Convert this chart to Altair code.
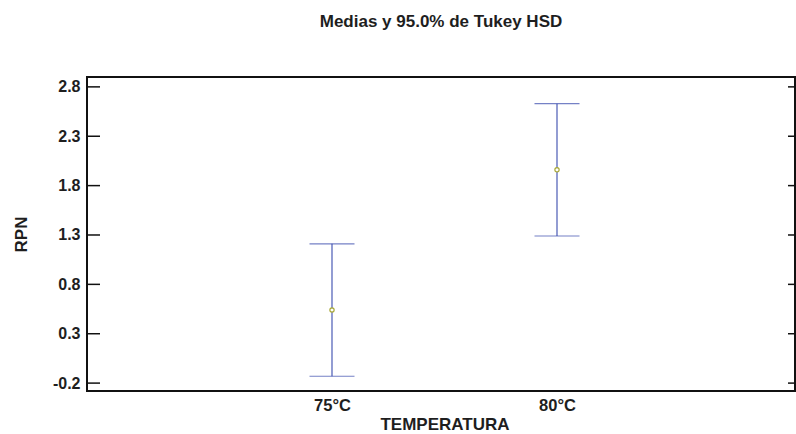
import altair as alt
import pandas as pd

categories = ["75°C", "80°C"]
means = [0.54, 1.96]
lower = [-0.13, 1.29]
upper = [1.21, 2.63]
y_ticks = [-0.2, 0.3, 0.8, 1.3, 1.8, 2.3, 2.8]

df = pd.DataFrame({"cat": categories, "mean": means, "lo": lower, "hi": upper})
ticks_df = pd.DataFrame({"v": y_ticks})

FONT = "Liberation Sans"
W, H = 708, 314
BLUE = "#3a4cae"
TXT = "#1e1e1e"

xscale = alt.Scale(type="point", range=[245, 470], padding=0, domain=categories)
yscale = alt.Scale(domain=[-0.28, 2.9], nice=False, zero=False)

x_enc = alt.X("cat:N", scale=xscale, sort=categories,
              axis=alt.Axis(title="TEMPERATURA", ticks=False, domain=False, labelAngle=0,
                            labelFont=FONT, labelFontSize=16.5, labelFontWeight="bold",
                            labelColor=TXT, labelPadding=6,
                            titleFont=FONT, titleFontSize=17, titleFontWeight="bold",
                            titleColor=TXT, titlePadding=3))
y_axis = alt.Axis(title="RPN", values=y_ticks,
                  labelExpr="replace(format(datum.value, '.1f'), '\u2212', '-')",
                  ticks=False, domain=False,
                  grid=False, labelFont=FONT, labelFontSize=16, labelFontWeight="bold",
                  labelColor=TXT, labelPadding=7,
                  titleFont=FONT, titleFontSize=17, titleFontWeight="bold",
                  titleColor=TXT, titlePadding=22)

bars = alt.Chart(df).mark_rule(color=BLUE, strokeWidth=1.1).encode(
    x=x_enc,
    y=alt.Y("lo:Q", scale=yscale, axis=y_axis),
    y2="hi:Q",
)
cap_lo = alt.Chart(df).mark_tick(color=BLUE, size=45, thickness=1.1, orient="horizontal").encode(
    x=alt.X("cat:N", scale=xscale, sort=categories), y=alt.Y("lo:Q", scale=yscale))
cap_hi = alt.Chart(df).mark_tick(color=BLUE, size=45, thickness=1.1, orient="horizontal").encode(
    x=alt.X("cat:N", scale=xscale, sort=categories), y=alt.Y("hi:Q", scale=yscale))
pts = alt.Chart(df).mark_point(shape="circle", size=18, filled=True, fill="white",
                               stroke="#a8a838", strokeWidth=1.2, opacity=1).encode(
    x=alt.X("cat:N", scale=xscale, sort=categories), y=alt.Y("mean:Q", scale=yscale))

lt = alt.Chart(ticks_df).mark_rule(color="#111", strokeWidth=1.5).encode(
    y=alt.Y("v:Q", scale=yscale), x=alt.value(0), x2=alt.value(13))
rt = alt.Chart(ticks_df).mark_rule(color="#111", strokeWidth=1.5).encode(
    y=alt.Y("v:Q", scale=yscale), x=alt.value(W - 7), x2=alt.value(W))

chart = alt.layer(bars, cap_lo, cap_hi, pts, lt, rt).properties(
    width=W, height=H,
    autosize=alt.AutoSizeParams(type="none"),
    padding={"left": 87, "top": 77, "right": 1, "bottom": 43},
    title=alt.TitleParams("Medias y 95.0% de Tukey HSD", font=FONT, fontSize=17,
                          fontWeight="bold", color=TXT, anchor="middle",
                          frame="group", offset=46),
).configure(background="white").configure_view(stroke="#111", strokeWidth=2)

chart.save("out.html", embed_options={"renderer": "svg", "actions": False})
